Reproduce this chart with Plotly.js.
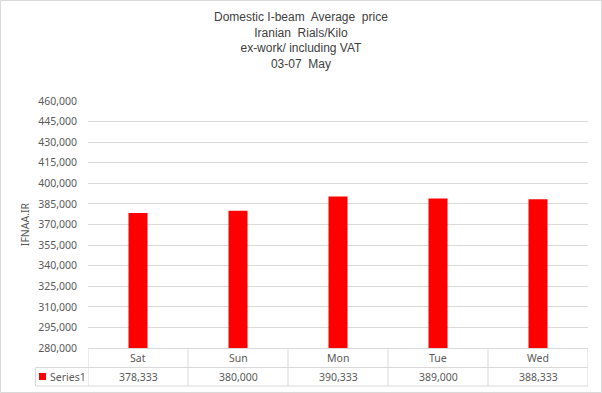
<!DOCTYPE html>
<html>
<head>
<meta charset="utf-8">
<script src="https://cdn.plot.ly/plotly-3.0.1.min.js"></script>
<style>
html,body{margin:0;padding:0;background:#fff;}
#chart{width:602px;height:393px;}
</style>
</head>
<body>
<div id="chart"></div>
<script>
// ---- data ----
const categories = ["Sat", "Sun", "Mon", "Tue", "Wed"];
const seriesName = "Series1";
const values = [378333, 380000, 390333, 389000, 388333];
const yTickVals = [280000, 295000, 310000, 325000, 340000, 355000, 370000, 385000, 400000, 415000, 430000, 445000, 460000];
const titleLines = ["Domestic I-beam\u00a0 Average\u00a0 price", "Iranian\u00a0 Rials/Kilo", "ex-work/ including VAT", "03-07\u00a0 May"];
const yTitle = "IFNAA.IR";

// ---- layout helpers (pixel geometry) ----
const W = 602, H = 393;
const L = 88, R = 14, T = 101, B = 45;
const PW = W - L - R, PH = H - T - B;
const px2x = p => (p - L) / PW;
const py2y = p => (H - B - p) / PH;

const gray = "#595959";
const lineCol = "#d9d9d9";
const fontFam = "'Noto Sans', 'Liberation Sans', Arial, sans-serif";

const fmt = v => v.toLocaleString("en-US");

const shapes = [];
const annotations = [];

// outer border
shapes.push({type: "rect", xref: "paper", yref: "paper",
  x0: px2x(0.5), x1: px2x(W - 0.5), y0: py2y(H - 0.5), y1: py2y(0.5),
  line: {color: lineCol, width: 1}, fillcolor: "rgba(0,0,0,0)", layer: "below"});

// title (as multi-line annotation for exact placement)
annotations.push({xref: "paper", yref: "paper", x: px2x(301), y: py2y(41), xanchor: "center", yanchor: "middle",
  text: titleLines.join("<br>"), showarrow: false, align: "center",
  font: {family: "'Liberation Sans', Arial, sans-serif", size: 12, color: "#404040"}});

// data table geometry
const rowTop = 348.5, rowMid = 367.5, rowBot = 386;
const leftCell = 35.5;
shapes.push({type: "line", xref: "paper", yref: "paper", x0: px2x(L), x1: px2x(W - R), y0: py2y(rowTop), y1: py2y(rowTop), line: {color: lineCol, width: 1}});
shapes.push({type: "line", xref: "paper", yref: "paper", x0: px2x(leftCell), x1: px2x(W - R), y0: py2y(rowMid), y1: py2y(rowMid), line: {color: lineCol, width: 1}});
shapes.push({type: "line", xref: "paper", yref: "paper", x0: px2x(leftCell), x1: px2x(W - R), y0: py2y(rowBot), y1: py2y(rowBot), line: {color: lineCol, width: 1}});
shapes.push({type: "line", xref: "paper", yref: "paper", x0: px2x(leftCell), x1: px2x(leftCell), y0: py2y(rowMid), y1: py2y(rowBot), line: {color: lineCol, width: 1}});
for (let i = 0; i <= categories.length; i++) {
  shapes.push({type: "line", xref: "x", yref: "paper", x0: i - 0.5, x1: i - 0.5, y0: py2y(rowTop), y1: py2y(rowBot), line: {color: lineCol, width: 1}});
}
// legend key
shapes.push({type: "rect", xref: "paper", yref: "paper", x0: px2x(39), x1: px2x(46), y0: py2y(380), y1: py2y(373), line: {width: 0}, fillcolor: "#ff0000"});
annotations.push({xref: "paper", yref: "paper", x: px2x(48), y: py2y((rowMid + rowBot) / 2), xanchor: "left", yanchor: "middle",
  text: seriesName, showarrow: false, font: {family: fontFam, size: 10.5, color: gray}});

categories.forEach((c, i) => {
  annotations.push({xref: "x", yref: "paper", x: c, y: py2y((rowTop + rowMid) / 2), xanchor: "center", yanchor: "middle",
    text: c, showarrow: false, font: {family: fontFam, size: 10.5, color: gray}});
  annotations.push({xref: "x", yref: "paper", x: c, y: py2y((rowMid + rowBot) / 2), xanchor: "center", yanchor: "middle",
    text: fmt(values[i]), showarrow: false, font: {family: fontFam, size: 10.5, color: gray}});
});

const trace = {
  type: "bar",
  x: categories,
  y: values,
  name: seriesName,
  width: 0.19,
  marker: {color: "#ff0000"},
  hoverinfo: "x+y"
};

const layout = {
  width: W, height: H,
  margin: {l: L, r: R, t: T, b: B, pad: 0},
  paper_bgcolor: "#ffffff",
  plot_bgcolor: "#ffffff",
  showlegend: false,
  xaxis: {
    type: "category",
    range: [-0.5, categories.length - 0.5],
    showticklabels: false,
    showgrid: false,
    zeroline: false,
    showline: false,
    ticks: ""
  },
  yaxis: {
    range: [yTickVals[0], yTickVals[yTickVals.length - 1]],
    tickvals: yTickVals,
    ticktext: yTickVals.map(fmt),
    showgrid: true,
    gridcolor: lineCol,
    gridwidth: 1,
    zeroline: false,
    showline: false,
    ticks: "",
    ticklabelstandoff: 10,
    tickfont: {family: fontFam, size: 10.5, color: gray},
    title: {text: yTitle, font: {family: fontFam, size: 10.5, color: gray}, standoff: 6}
  },
  shapes: shapes,
  annotations: annotations
};

Plotly.newPlot("chart", [trace], layout, {displayModeBar: false, staticPlot: true});
</script>
</body>
</html>
